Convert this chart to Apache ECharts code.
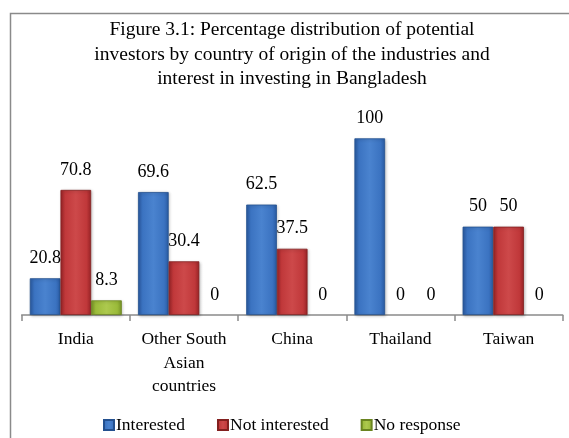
<!DOCTYPE html>
<html>
<head>
<meta charset="utf-8">
<script src="https://cdn.jsdelivr.net/npm/echarts@6/dist/echarts.min.js"></script>
<style>
  html, body { margin: 0; padding: 0; background: #fff; }
  #chart { width: 569px; height: 438px; }
</style>
</head>
<body>
<div id="chart"></div>
<script>
// Countries of origin and the share of investors in each response group (%)
const categories = ['India', 'Other South\nAsian\ncountries', 'China', 'Thailand', 'Taiwan'];
const interested = [20.8, 69.6, 62.5, 100, 50];
const notInterested = [70.8, 30.4, 37.5, 0, 50];
const noResponse = [8.3, 0, 0, 0, 0];
const seriesNames = ['Interested', 'Not interested', 'No response'];

const serif = '"Liberation Serif", "Times New Roman", serif';

function bevel(dark, mid, light) {
  return {
    type: 'linear', x: 0, y: 0, x2: 1, y2: 0,
    colorStops: [
      { offset: 0, color: dark },
      { offset: 0.15, color: mid },
      { offset: 0.5, color: light },
      { offset: 0.85, color: mid },
      { offset: 1, color: dark }
    ]
  };
}

const palettes = [
  { fill: bevel('#2a5ba3', '#3b73c1', '#4a83cf'), border: '#23508f', icon: '#3a6fb8' },
  { fill: bevel('#9a2427', '#c0383a', '#cd494a'), border: '#83201f', icon: '#b8383a' },
  { fill: bevel('#7a9628', '#9bbb3a', '#adc94e'), border: '#6a8420', icon: '#8fae34' }
];

const labelStyle = {
  show: true,
  position: 'top',
  distance: 11,
  color: '#000',
  fontFamily: serif,
  fontSize: 18
};

function makeSeries(name, values, pal) {
  const solid = {
    color: pal.fill,
    borderColor: pal.border,
    borderWidth: 0.8,
    shadowColor: 'rgba(0,0,0,0.25)',
    shadowBlur: 3,
    shadowOffsetX: 1,
    shadowOffsetY: 1
  };
  return {
    name: name,
    type: 'bar',
    // zero-height bars keep their value label but draw no outline
    data: values.map(v => v === 0
      ? { value: v, itemStyle: { borderWidth: 0, shadowBlur: 0, shadowOffsetX: 0, shadowOffsetY: 0, shadowColor: 'transparent' } }
      : v),
    barGap: '0%',
    barCategoryGap: '15%',
    itemStyle: solid,
    label: labelStyle
  };
}

const chart = echarts.init(document.getElementById('chart'), null, { renderer: 'canvas' });

chart.setOption({
  backgroundColor: '#fff',
  animation: false,
  color: palettes.map(p => p.icon),
  title: {
    text: 'Figure 3.1: Percentage distribution of potential\ninvestors by country of origin of the industries and\ninterest in investing in Bangladesh',
    left: 287,
    top: 13,
    textAlign: 'center',
    textStyle: {
      fontFamily: serif,
      fontWeight: 'normal',
      fontSize: 19.5,
      lineHeight: 24.5,
      color: '#000'
    }
  },
  graphic: [{
    type: 'rect',
    shape: { x: 10.5, y: 13.5, width: 620, height: 500 },
    style: { fill: 'none', stroke: '#8a8a8a', lineWidth: 1.5 },
    z: 0
  }],
  legend: {
    top: 411,
    left: 98,
    itemWidth: 10,
    itemHeight: 10,
    itemGap: 32,
    icon: 'rect',
    data: seriesNames,
    textStyle: {
      fontFamily: serif,
      fontSize: 17.5,
      color: '#000',
      padding: [0, 0, 0, -3]
    }
  },
  grid: {
    left: 21.7,
    right: 6.3,
    top: 103,
    bottom: 123
  },
  xAxis: {
    type: 'category',
    data: categories,
    axisLine: { lineStyle: { color: '#8a8a8a', width: 1.5 } },
    axisTick: { show: true, length: 6, lineStyle: { color: '#8a8a8a', width: 1.5 } },
    axisLabel: {
      color: '#000',
      fontFamily: serif,
      fontSize: 17.5,
      lineHeight: 23.5,
      margin: 13,
      interval: 0
    }
  },
  yAxis: {
    type: 'value',
    min: 0,
    max: 120,
    show: false,
    splitLine: { show: false }
  },
  series: [
    makeSeries(seriesNames[0], interested, palettes[0]),
    makeSeries(seriesNames[1], notInterested, palettes[1]),
    makeSeries(seriesNames[2], noResponse, palettes[2])
  ]
});
</script>
</body>
</html>
